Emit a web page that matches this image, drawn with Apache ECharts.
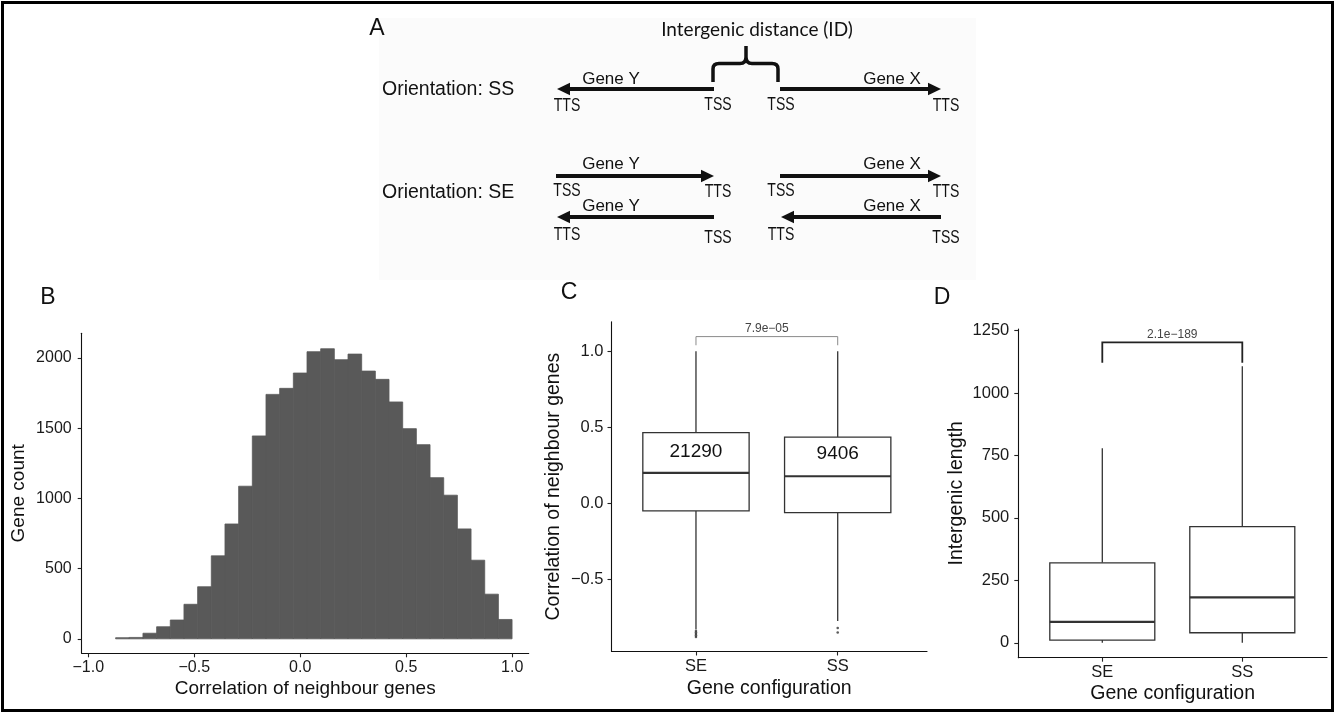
<!DOCTYPE html>
<html><head><meta charset="utf-8">
<script src="https://cdn.jsdelivr.net/npm/echarts@6/dist/echarts.min.js"></script>
<style>html,body{margin:0;padding:0;background:#fff}#c{width:1335px;height:713px}</style>
</head><body><div id="c"></div>
<script>
// ---------- Panel B: histogram ----------
const binStart = -0.871;
const binWidth = 0.0645;
const histCounts = [8,10,40,86,134,246,371,591,818,1087,1445,1741,1784,1893,2045,2066,1988,2028,1907,1848,1687,1497,1383,1148,1023,783,560,318,138];
const histXTicks = [-1.0,-0.5,0.0,0.5,1.0];
const histYTicks = [0,500,1000,1500,2000];

// ---------- Panel C: correlation box plots ----------
const configs = ['SE','SS'];
// [lower whisker, Q1, median, Q3, upper whisker]
const corrBox = [[-0.83,-0.05,0.20,0.465,1.0],[-0.775,-0.061,0.178,0.436,1.0]];
const corrOutliers = [[-0.84,-0.85,-0.86,-0.87,-0.88],[-0.82,-0.85]];
const corrCounts = ['21290','9406'];
const corrCountY = [0.34,0.327];
const corrPValue = '7.9e\u221205';
const corrBracket = [1.04,1.097];
const corrYTicks = [-0.5,0.0,0.5,1.0];

// ---------- Panel D: intergenic length box plots ----------
const lenBox = [[0,10.7,84,320,779],[0,40,182,465,1108]];
const lenPValue = '2.1e\u2212189';
const lenBracket = [1122,1203];
const lenYTicks = [0,250,500,750,1000,1250];

const FONT = '"Liberation Sans", Arial, Helvetica, sans-serif';
const minusFmt = d => v => (v < 0 ? '\u2212' : '') + Math.abs(v).toFixed(d);

function baseAxis(extra) {
  return Object.assign({
    axisLine: {show: true, onZero: false, lineStyle: {color: '#111', width: 1.1}},
    splitLine: {show: false},
    nameLocation: 'middle',
    nameTextStyle: {fontFamily: FONT, fontSize: 19.5, color: '#111'}
  }, extra);
}
function tickCfg(vals) {
  return {show: true, length: 4, customValues: vals, lineStyle: {color: '#222', width: 1.1}};
}
function labelCfg(size, margin, fmt, vals) {
  return {fontFamily: FONT, fontSize: size, color: '#1a1a1a', margin: margin, formatter: fmt, customValues: vals};
}

const histData = histCounts.map((c, i) => [binStart + i * binWidth, binStart + (i + 1) * binWidth, c]);

function histRender(params, api) {
  const p0 = api.coord([api.value(0), 0]);
  const p1 = api.coord([api.value(1), api.value(2)]);
  return {type: 'rect', shape: {x: p0[0], y: p1[1], width: p1[0] - p0[0], height: p0[1] - p1[1]},
    style: {fill: '#595959', stroke: '#595959', lineWidth: 0.8}};
}

function boxRender(params, api) {
  const x = api.value(0), lo = api.value(1), q1 = api.value(2), md = api.value(3), q3 = api.value(4), hi = api.value(5);
  const hw = 0.375;
  const tl = api.coord([x - hw, q3]), br = api.coord([x + hw, q1]);
  const pHi = api.coord([x, hi]), pQ3 = api.coord([x, q3]), pQ1 = api.coord([x, q1]), pLo = api.coord([x, lo]);
  const mL = api.coord([x - hw, md]), mR = api.coord([x + hw, md]);
  const stroke = '#333';
  return {type: 'group', children: [
    {type: 'line', shape: {x1: pHi[0], y1: pHi[1], x2: pQ3[0], y2: pQ3[1]}, style: {stroke, lineWidth: 1.3}},
    {type: 'line', shape: {x1: pQ1[0], y1: pQ1[1], x2: pLo[0], y2: pLo[1]}, style: {stroke, lineWidth: 1.3}},
    {type: 'rect', shape: {x: tl[0], y: tl[1], width: br[0] - tl[0], height: br[1] - tl[1]}, style: {fill: '#fff', stroke, lineWidth: 1.3}},
    {type: 'line', shape: {x1: mL[0], y1: mL[1], x2: mR[0], y2: mR[1]}, style: {stroke, lineWidth: 2.2}}
  ]};
}

function bracketRender(color, width, text) {
  return function (params, api) {
    const leg = api.value(0), bar = api.value(1);
    const a = api.coord([1, leg]), b = api.coord([1, bar]), c = api.coord([2, bar]), d = api.coord([2, leg]);
    return {type: 'group', children: [
      {type: 'polyline', shape: {points: [a, b, c, d]}, style: {stroke: color, lineWidth: width, fill: null}},
      {type: 'text', x: (b[0] + c[0]) / 2, y: b[1] - 2,
        style: {text: text, fill: '#444', font: '12px ' + FONT, align: 'center', verticalAlign: 'bottom'}}
    ]};
  };
}

function countRender(params, api) {
  const p = api.coord([api.value(0), api.value(1)]);
  return {type: 'text', x: p[0], y: p[1],
    style: {text: corrCounts[params.dataIndex], fill: '#111', font: '19px ' + FONT, align: 'center', verticalAlign: 'middle'}};
}

// ---------- Panel A diagram (graphic) ----------
const DIA = '#111';
function arrow(tail, tip, y) {
  const dir = tip > tail ? 1 : -1;
  const hl = 13, hh = 6.3;
  const base = tip - dir * hl;
  return [
    {type: 'line', shape: {x1: tail, y1: y, x2: base + dir * 1, y2: y}, style: {stroke: DIA, lineWidth: 4}},
    {type: 'polygon', shape: {points: [[tip, y], [base, y - hh], [base, y + hh]]}, style: {fill: DIA}}
  ];
}
function txt(t, x, y, font, align, sx) {
  return {type: 'text', x: x, y: y, scaleX: sx || 1, style: {text: t, fill: DIA, font: font, align: align || 'center', verticalAlign: 'middle',
    textAlign: align || 'center', textVerticalAlign: 'middle'}};
}
const NARROW = '18px ' + FONT;
const GENE = '17px ' + FONT;
const ORI = '19.5px ' + FONT;
const nt = (t, x, y) => txt(t, x, y, NARROW, 'center', 0.78);

const graphics = [
  {type: 'rect', shape: {x: 379, y: 18, width: 597, height: 262}, style: {fill: '#fbfbfb'}, z: -1},
  txt('A', 377, 29, '23px ' + FONT),
  txt('B', 48, 298, '23px ' + FONT),
  txt('C', 569, 293, '23px ' + FONT),
  txt('D', 942, 298, '23px ' + FONT),
  txt('Intergenic distance (ID)', 757, 30, '19px Lato, "Open Sans", sans-serif'),
  txt('Orientation: SS', 382, 90, ORI, 'left'),
  txt('Orientation: SE', 382, 193, ORI, 'left'),
  ...arrow(714, 557, 89), ...arrow(780, 941, 89),
  ...arrow(556, 714, 176), ...arrow(780, 941, 176),
  ...arrow(714, 557, 217), ...arrow(941, 781, 217),
  txt('Gene Y', 611, 79, GENE), txt('Gene X', 892, 79, GENE),
  txt('Gene Y', 611, 164, GENE), txt('Gene X', 892, 164, GENE),
  txt('Gene Y', 611, 206, GENE), txt('Gene X', 892, 206, GENE),
  nt('TTS', 567, 106), nt('TSS', 718, 105), nt('TSS', 781, 105), nt('TTS', 946, 106),
  nt('TSS', 567, 191), nt('TTS', 718, 192), nt('TSS', 781, 191), nt('TTS', 946, 192),
  nt('TTS', 567, 235), nt('TSS', 718, 238), nt('TTS', 781, 235), nt('TSS', 946, 238),
  {type: 'rect', shape: {x: 2.5, y: 2.5, width: 1330, height: 708}, style: {fill: null, stroke: '#000', lineWidth: 3}, z: 10}
];

function braceRender() {
  return {type: 'path', shape: {pathData: 'M713,82 L713,69 Q713,63.5 719,63.5 L740,63.5 Q746,63.5 746,57 L746,46 M746,57 Q746,63.5 752,63.5 L772,63.5 Q778,63.5 778,69 L778,82'},
    style: {stroke: DIA, lineWidth: 3.5, fill: null}};
}

const chart = echarts.init(document.getElementById('c'), null, {renderer: 'canvas'});
chart.setOption({
  animation: false,
  backgroundColor: '#fff',
  grid: [
    {left: 81.7, top: 333.3, width: 447, height: 320, outerBoundsMode: 'none'},
    {left: 611.5, top: 321.7, width: 315.5, height: 329.8, outerBoundsMode: 'none'},
    {left: 1018.3, top: 329, width: 308.7, height: 328.7, outerBoundsMode: 'none'}
  ],
  xAxis: [
    baseAxis({gridIndex: 0, type: 'value', min: -1.031, max: 1.078, name: 'Correlation of neighbour genes', nameGap: 26,
      nameTextStyle: {fontFamily: FONT, fontSize: 19, color: '#111'},
      axisTick: tickCfg(histXTicks), axisLabel: labelCfg(16, 6, minusFmt(1), histXTicks)}),
    baseAxis({gridIndex: 1, type: 'value', min: 0.404, max: 2.63, name: 'Gene configuration', nameGap: 27,
      axisTick: tickCfg([1, 2]), axisLabel: labelCfg(16.5, 6, v => configs[Math.round(v) - 1] || '', [1, 2])}),
    baseAxis({gridIndex: 2, type: 'value', min: 0.4, max: 2.605, name: 'Gene configuration', nameGap: 26,
      axisTick: tickCfg([1, 2]), axisLabel: labelCfg(16.5, 6, v => configs[Math.round(v) - 1] || '', [1, 2])})
  ],
  yAxis: [
    baseAxis({gridIndex: 0, type: 'value', min: -103, max: 2176, name: 'Gene count', nameGap: 53,
      nameTextStyle: {fontFamily: FONT, fontSize: 19, color: '#111'},
      axisTick: tickCfg(histYTicks), axisLabel: labelCfg(16, 10, v => String(v), histYTicks)}),
    baseAxis({gridIndex: 1, type: 'value', min: -0.975, max: 1.195, name: 'Correlation of neighbour genes', nameGap: 48,
      axisTick: tickCfg(corrYTicks), axisLabel: labelCfg(16.5, 8, minusFmt(1), corrYTicks)}),
    baseAxis({gridIndex: 2, type: 'value', min: -59.85, max: 1256.85, name: 'Intergenic length', nameGap: 52,
      axisTick: tickCfg(lenYTicks), axisLabel: labelCfg(16.5, 9, v => String(v), lenYTicks)})
  ],
  series: [
    {type: 'custom', xAxisIndex: 0, yAxisIndex: 0, renderItem: histRender, data: histData, encode: {x: [0, 1], y: 2}, clip: true},
    {type: 'custom', xAxisIndex: 1, yAxisIndex: 1, renderItem: boxRender, data: corrBox.map((b, i) => [i + 1, ...b]), encode: {x: 0, y: [1, 2, 3, 4, 5]}},
    {type: 'scatter', xAxisIndex: 1, yAxisIndex: 1, symbolSize: 2.6, itemStyle: {color: '#333'},
      data: corrOutliers.flatMap((arr, i) => arr.map(v => [i + 1, v]))},
    {type: 'custom', xAxisIndex: 1, yAxisIndex: 1, renderItem: countRender, data: corrCountY.map((y, i) => [i + 1, y]), encode: {x: 0, y: 1}, z: 5},
    {type: 'custom', xAxisIndex: 1, yAxisIndex: 1, renderItem: bracketRender('#8a8a8a', 1, corrPValue), data: [corrBracket], encode: {y: [0, 1]}},
    {type: 'custom', xAxisIndex: 2, yAxisIndex: 2, renderItem: boxRender, data: lenBox.map((b, i) => [i + 1, ...b]), encode: {x: 0, y: [1, 2, 3, 4, 5]}},
    {type: 'custom', xAxisIndex: 2, yAxisIndex: 2, renderItem: bracketRender('#222', 1.8, lenPValue), data: [lenBracket], encode: {y: [0, 1]}},
    {type: 'custom', coordinateSystem: 'none', renderItem: braceRender, data: [[0]]}
  ],
  graphic: {elements: graphics}
});
</script>
</body></html>
